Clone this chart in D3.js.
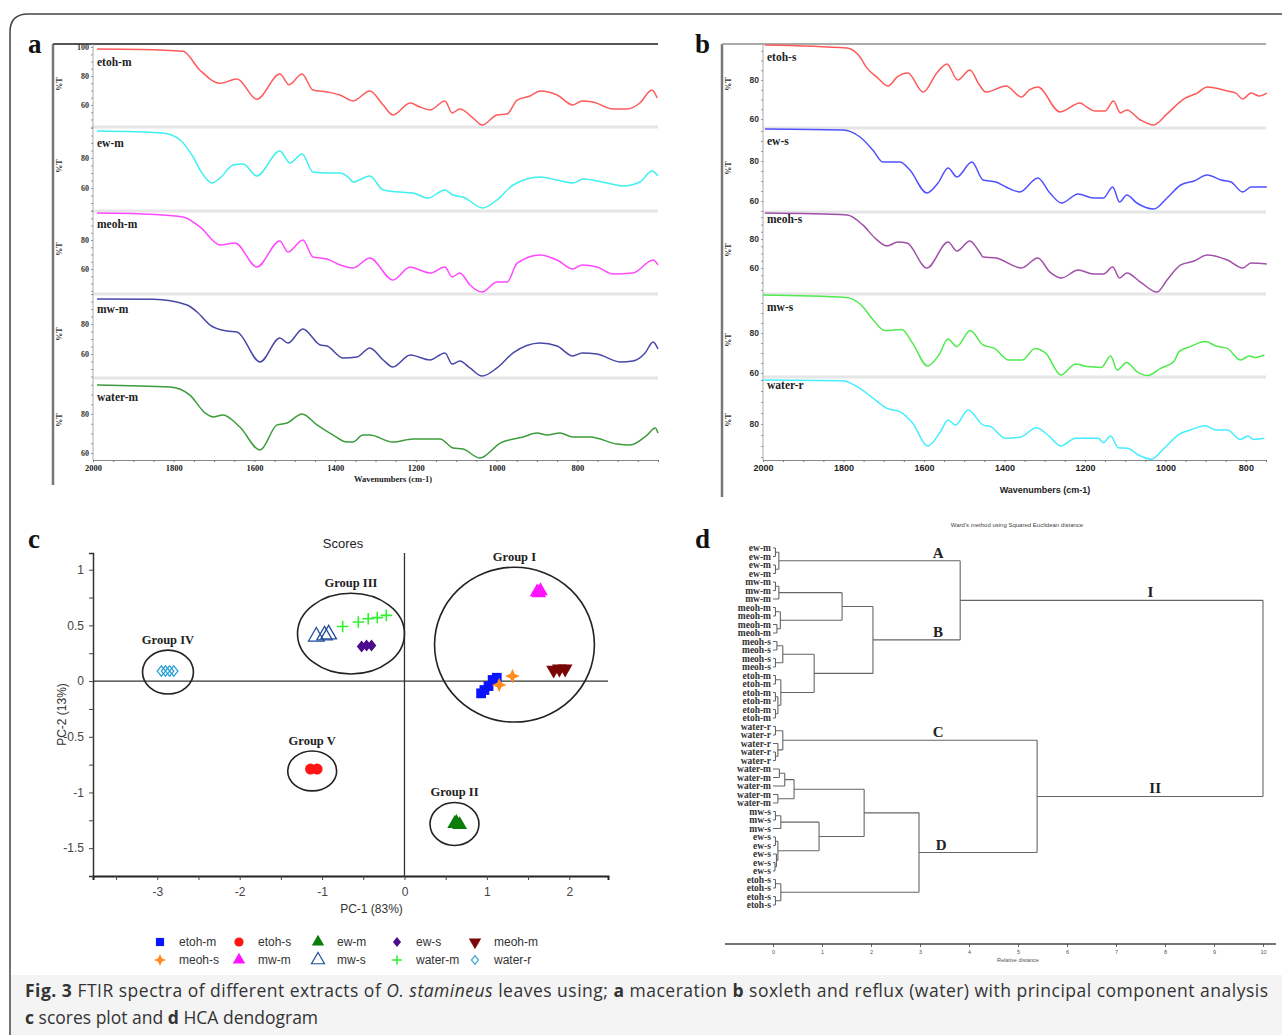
<!DOCTYPE html>
<html>
<head>
<meta charset="utf-8">
<script src="https://cdn.jsdelivr.net/npm/d3@7"></script>
<style>
  body { margin: 0; background: #fff; }
  svg { display: block; }
</style>
</head>
<body>
<svg id="fig"></svg>
<script>
// ---------- data: FTIR spectra, [wavenumber, %T] ----------
let etohM = [[1990,98.6],[1880,98.3],[1777,97],[1735,84],[1685,75],[1643,78],[1594,64],[1537,81.4],[1514,74],[1482,81.4],[1455,70.3],[1420,69],[1388,66.9],[1356,62.8],[1314,69.7],[1281,60],[1257,53.1],[1214,61.4],[1190,58.6],[1165,56.6],[1128,62.8],[1110,54.5],[1091,57.2],[1058,51],[1036,46.2],[999,53.1],[974,53.8],[949,63.4],[917,66.2],[892,69.7],[850,66.9],[811,60],[788,62.8],[761,62.1],[711,57.2],[677,57.2],[645,61.4],[615,70.3],[602,64.8]];
let ewM = [[1990,98],[1827,96.7],[1784,92],[1752,80.7],[1730,70],[1705,63.3],[1685,66.7],[1653,75.3],[1628,76],[1594,68],[1537,84.7],[1512,76.7],[1482,82.7],[1455,70.7],[1420,70],[1388,70],[1363,66],[1356,64],[1314,68],[1281,58.7],[1239,57.3],[1207,56.7],[1170,53.3],[1128,58.7],[1108,55.3],[1083,54],[1034,46.7],[999,52],[959,62],[892,67.3],[850,65.3],[811,63.3],[786,66],[726,63.3],[687,61.3],[645,64],[615,71.3],[600,68]];
let meohM = [[1990,98.6],[1880,98],[1777,95.9],[1735,89],[1685,76.6],[1648,78],[1594,61.4],[1537,79.3],[1517,71.7],[1480,80],[1455,68.3],[1420,66.9],[1388,62.8],[1356,60.7],[1314,67.6],[1257,52.4],[1214,61.4],[1190,59.3],[1165,57.2],[1128,61.4],[1110,54.5],[1091,57.2],[1066,49],[1036,44.1],[999,51],[974,51],[949,64],[892,69.7],[850,66.2],[811,60],[788,62.8],[751,61.4],[711,56.6],[662,57.2],[612,66.2],[600,62.8]];
let mwM = [[1990,96.7],[1850,96.5],[1767,92.7],[1742,88],[1710,79.3],[1668,75.3],[1643,74.7],[1586,54.7],[1537,70.7],[1517,67.3],[1480,76.7],[1437,66],[1420,65.3],[1380,57.3],[1346,58],[1314,64],[1281,56],[1257,51.3],[1214,59.3],[1165,56],[1128,60.7],[1110,53.3],[1091,55.3],[1066,50.7],[1036,45.3],[999,50.7],[959,60.7],[892,67.3],[850,65.3],[811,58.7],[788,60.7],[751,60],[694,54.7],[662,55.3],[632,60.7],[612,68],[600,63.3]];
let waterM = [[1990,94.9],[1809,93.8],[1760,89.7],[1722,80.5],[1703,78.5],[1678,79.5],[1636,73.3],[1586,61.5],[1544,74.4],[1519,75.4],[1482,80],[1445,74.4],[1405,69.2],[1371,65.6],[1356,65.6],[1331,69.2],[1314,69.2],[1257,65.6],[1207,67.2],[1140,67.2],[1108,62.6],[1083,62],[1041,57.4],[991,65.1],[934,68.2],[900,70.3],[875,69.2],[843,70.3],[811,68.2],[768,68.2],[702,64.6],[669,64.1],[627,69.2],[607,72.8],[600,70.3]];

let etohS = [[1995,98],[1791,96.4],[1759,91.8],[1742,86.2],[1717,81.5],[1689,76.9],[1667,81.5],[1640,83.6],[1602,73.8],[1568,83.6],[1543,88.2],[1516,80],[1486,85.1],[1462,77.4],[1446,73.8],[1396,76.9],[1358,71.3],[1338,74.9],[1317,76.4],[1262,63.6],[1212,68.2],[1196,66.2],[1175,64.1],[1150,64.1],[1129,69.2],[1112,63.1],[1096,64.6],[1062,59.5],[1029,56.9],[996,62.6],[954,70.3],[921,73.3],[896,76.4],[846,74.4],[825,73.3],[808,70.3],[787,73.3],[767,71.8],[748,73.3]];
let ewS = [[1995,96],[1801,95.5],[1759,92],[1727,85.5],[1702,79.5],[1660,79.5],[1635,75.5],[1593,64],[1565,69],[1540,76.5],[1518,72],[1481,79.5],[1453,70.5],[1421,69.5],[1396,67],[1362,64.5],[1317,71.5],[1287,64],[1258,59],[1217,63.5],[1179,61.5],[1154,61.5],[1131,67],[1114,59.5],[1096,63],[1071,59],[1029,56],[996,61.5],[962,68],[929,70],[896,73],[862,70.5],[837,69.5],[808,64.5],[787,67],[748,67]];
let meohS = [[1995,97.9],[1791,96.6],[1752,89.7],[1722,80.7],[1692,75.2],[1665,77.9],[1642,77.2],[1593,60],[1540,77.9],[1518,71.7],[1486,78.6],[1462,71],[1453,67.6],[1421,66.9],[1358,60],[1317,66.9],[1287,57.2],[1258,53.1],[1217,58.6],[1179,55.9],[1154,55.9],[1131,60.7],[1114,53.1],[1096,56.6],[1062,50.3],[1021,43.4],[996,51.7],[962,62.1],[929,64.8],[896,69],[846,65.5],[808,60],[787,63.4],[748,62.8]];
let mwS = [[2000,99],[1793,97.8],[1756,94],[1729,87.3],[1697,81.2],[1655,81.8],[1628,74.8],[1591,63.5],[1563,69],[1540,77],[1519,73.2],[1485,81.2],[1453,74],[1425,72.3],[1389,66.5],[1356,66.5],[1324,72.3],[1297,69.8],[1260,59],[1223,64.5],[1195,63.2],[1159,62.8],[1136,68.5],[1120,61.5],[1096,65.3],[1071,60.7],[1044,58.7],[1012,62.3],[979,65.7],[966,70.7],[938,73.2],[901,75.7],[874,73.5],[846,72.3],[814,66.5],[791,68.5],[777,67.8],[754,69]];
let waterR = [[2000,100],[1802,99.7],[1766,97],[1729,92.1],[1692,87.1],[1660,85.6],[1628,80.3],[1591,70],[1559,76.5],[1540,81.8],[1522,79.5],[1490,86.4],[1453,79.5],[1434,78.8],[1398,73.5],[1361,74],[1320,78.3],[1292,75],[1260,70],[1223,73.5],[1167,73.5],[1154,71.5],[1136,74.5],[1117,69.2],[1094,69],[1067,65.9],[1035,64],[1003,69],[966,75.3],[938,77.3],[901,79.2],[874,77.3],[846,77.3],[814,73],[795,74.5],[781,73],[754,73.5]];

let spectraTicks = [2000, 1800, 1600, 1400, 1200, 1000, 800];

// ---------- data: PCA scores [PC-1, PC-2] ----------
let scoresEtohM = [[1.07,0.01],[1.02,-0.045],[0.97,-0.08],[0.93,-0.11],[1.12,0.03]];
let scoresEtohS = [[-1.14,-0.79],[-1.06,-0.79]];
let scoresEwM = [[0.61,-1.28],[0.67,-1.29],[0.63,-1.27]];
let scoresEwS = [[-0.52,0.31],[-0.46,0.32],[-0.40,0.32]];
let scoresMeohM = [[1.81,0.10],[1.88,0.11],[1.95,0.11]];
let scoresMeohS = [[1.31,0.045],[1.15,-0.035]];
let scoresMwM = [[1.61,0.80],[1.65,0.81],[1.63,0.79]];
let scoresMwS = [[-1.07,0.40],[-0.97,0.41],[-0.92,0.42]];
let scoresWaterM = [[-0.75,0.49],[-0.56,0.53],[-0.44,0.56],[-0.33,0.57],[-0.22,0.59]];
let scoresWaterR = [[-2.95,0.09],[-2.90,0.09],[-2.85,0.09],[-2.80,0.09]];

// groups: name, centre [PC-1, PC-2], radii [PC-1, PC-2]
let groupNames = ['Group I', 'Group II', 'Group III', 'Group IV', 'Group V'];
let groupCentres = [[1.335,0.327],[0.607,-1.283],[-0.649,0.426],[-2.87,0.081],[-1.12,-0.807]];
let groupRadii = [[0.97,0.695],[0.297,0.193],[0.649,0.363],[0.309,0.197],[0.297,0.179]];

// ---------- data: HCA dendrogram ----------
let hcaLabels = ['ew-m','ew-m','ew-m','ew-m','mw-m','mw-m','mw-m','meoh-m','meoh-m','meoh-m','meoh-m',
  'meoh-s','meoh-s','meoh-s','meoh-s','etoh-m','etoh-m','etoh-m','etoh-m','etoh-m','etoh-m',
  'water-r','water-r','water-r','water-r','water-r','water-m','water-m','water-m','water-m','water-m',
  'mw-s','mw-s','mw-s','ew-s','ew-s','ew-s','ew-s','ew-s','etoh-s','etoh-s','etoh-s','etoh-s'];
// [height, child, child...], leaves are indices into hcaLabels
let hcaTree = [10,
  [3.82,
    [0.12, [0.05,0,1], [0.05,2,3]],
    [2.04,
      [1.41, [0.12,[0.05,4,5],6], [0.15,[0.05,7,8],[0.08,9,10]]],
      [0.84, [0.2,[0.08,11,12],[0.05,13,14]], [0.16,[0.05,15,16],[0.1,[0.05,17,18],[0.05,19,20]]]]]],
  [5.39,
    [0.2, [0.05,21,22], [0.1,23,[0.05,24,25]]],
    [2.98,
      [1.86, [0.43,[0.24,[0.13,26,27],28],[0.1,29,30]], [0.94,[0.16,[0.05,31,32],33],[0.1,[0.05,34,35],[0.07,36,[0.04,37,38]]]]],
      [0.16, [0.05,39,40], [0.05,41,42]]]]];
let hcaTicks = d3.range(0, 11);

// ---------- setup ----------
const W = 1282, H = 1035;
const serif = '"Liberation Serif","Times New Roman",serif';
const sans = '"Liberation Sans",Arial,sans-serif';
const narrow = '"Liberation Sans Narrow","Arial Narrow","Liberation Sans",sans-serif';

let svg = d3.select('#fig').attr('width', W).attr('height', H);

// outer frame + caption band
svg.append('rect').attr('x', 11).attr('y', 975).attr('width', W - 11).attr('height', H - 975).attr('fill', '#f4f4f4');
svg.append('path').attr('d', 'M10,1035 L10,32 Q10,14 28,14 L1282,14')
    .attr('fill', 'none').attr('stroke', '#444').attr('stroke-width', 1.5);

// panel letters
[['a',28,53],['b',695,53],['c',28,548],['d',695,548]].forEach(p => {
    svg.append('text').attr('x', p[1]).attr('y', p[2]).text(p[0])
        .attr('font-family', serif).attr('font-weight', 'bold').attr('font-size', 27).attr('fill', '#111');
});

// ---------- spectra panels (a, b) ----------
function drawSpectra(cfg) {
    let g = svg.append('g');
    let x = d3.scaleLinear().domain(cfg.xDomain).range(cfg.xRange);

    // frame
    g.append('line').attr('x1', cfg.frameX).attr('x2', cfg.frameX).attr('y1', 44).attr('y2', cfg.frameBottom)
        .attr('stroke', '#777').attr('stroke-width', 2.5);
    g.append('line').attr('x1', cfg.frameX).attr('x2', cfg.xRange[1]).attr('y1', 44).attr('y2', 44)
        .attr('stroke', cfg.topColor).attr('stroke-width', 2);

    // separators between stacked spectra
    cfg.tops.slice(1).forEach(t => {
        g.append('rect').attr('x', cfg.xRange[0]).attr('y', t - 1.5).attr('width', cfg.xRange[1] - cfg.xRange[0])
            .attr('height', 3).attr('fill', '#e6e6e6');
    });

    // inner y axis line
    g.append('line').attr('x1', cfg.xRange[0]).attr('x2', cfg.xRange[0]).attr('y1', 44).attr('y2', cfg.bottom)
        .attr('stroke', '#aaa').attr('stroke-width', 1);

    cfg.data.forEach((series, i) => {
        let y = d3.scaleLinear().domain([60, 80]).range(cfg.yPix[i]);
        let top = cfg.tops[i], bot = i < 4 ? cfg.tops[i + 1] : cfg.bottom;
        let lo = Math.ceil(y.invert(bot) / 5) * 5, hi = Math.floor(y.invert(top) / 5) * 5;
        let ax = g.append('g').attr('transform', `translate(${cfg.xRange[0]},0)`)
            .call(d3.axisLeft(y).tickValues(d3.range(lo, hi + 1, 5))
                .tickSize(2).tickPadding(2)
                .tickFormat(d => cfg.yLabels[i].includes(d) ? d : ''));
        ax.select('.domain').remove();
        ax.selectAll('line').attr('stroke', '#999');
        ax.selectAll('text').attr('font-family', cfg.tickFont).attr('font-weight', 'bold')
            .attr('font-size', cfg.tickSize).attr('fill', '#333');

        // %T label
        g.append('text').attr('transform', `translate(${cfg.pctX},${cfg.pctY[i]}) rotate(-90)`)
            .attr('text-anchor', 'middle').text('%T')
            .attr('font-family', serif).attr('font-weight', 'bold').attr('font-size', 8).attr('fill', '#333');

        // spectrum
        let line = d3.line().x(d => x(d[0])).y(d => y(d[1])).curve(d3.curveMonotoneX);
        g.append('path').datum(series).attr('d', line)
            .attr('fill', 'none').attr('stroke', cfg.colors[i]).attr('stroke-width', 1.5);

        // name
        g.append('text').attr('x', cfg.nameX).attr('y', cfg.nameY[i]).text(cfg.names[i])
            .attr('font-family', serif).attr('font-weight', 'bold').attr('font-size', 11.5).attr('fill', '#222');
    });

    // bottom axis
    let xAxis = g.append('g').attr('transform', `translate(0,${cfg.bottom})`)
        .call(d3.axisBottom(x).tickValues(d3.range(cfg.xDomain[0], cfg.xDomain[1] - 1, -50))
            .tickSize(2).tickPadding(3)
            .tickFormat(d => spectraTicks.includes(d) ? d : ''));
    xAxis.select('.domain').attr('stroke', '#888');
    xAxis.selectAll('line').attr('stroke', '#777');
    xAxis.selectAll('text').attr('font-family', cfg.tickFont).attr('font-weight', 'bold')
        .attr('font-size', cfg.tickSize + 0.5).attr('fill', '#222');

    g.append('text').attr('x', cfg.titleX).attr('y', cfg.titleY).attr('text-anchor', 'middle')
        .text('Wavenumbers (cm-1)').attr('font-family', cfg.tickFont).attr('font-weight', 'bold')
        .attr('font-size', cfg.tickSize + 0.5).attr('fill', '#222');
}

drawSpectra({
    names: ['etoh-m', 'ew-m', 'meoh-m', 'mw-m', 'water-m'],
    data: [etohM, ewM, meohM, mwM, waterM],
    colors: ['#ff5b5b', '#3ef0f0', '#ff48ff', '#4848a8', '#3c9c3c'],
    xDomain: [2000, 600], xRange: [93, 658],
    frameX: 53, frameBottom: 485, topColor: '#555',
    tops: [44, 127, 211, 294, 378], bottom: 460,
    yPix: [[105, 76], [188, 158], [269, 240], [354, 324], [453, 414]],
    yLabels: [[100, 80, 60], [80, 60], [80, 60], [80, 60], [80, 60]],
    nameX: 97, nameY: [66, 147, 228, 313, 401],
    pctX: 62, pctY: [84, 166, 249, 334, 420],
    tickFont: serif, tickSize: 8,
    titleX: 393, titleY: 482
});

drawSpectra({
    names: ['etoh-s', 'ew-s', 'meoh-s', 'mw-s', 'water-r'],
    data: [etohS, ewS, meohS, mwS, waterR],
    colors: ['#ff5a5a', '#5050ff', '#a050a8', '#4eea4e', '#44eeff'],
    xDomain: [2000, 750], xRange: [763, 1266],
    frameX: 722, frameBottom: 497, topColor: '#aaa',
    tops: [44, 128, 212, 294, 377], bottom: 460,
    yPix: [[119, 80], [201, 161], [268, 239], [373, 333], [468, 424]],
    yLabels: [[80, 60], [80, 60], [80, 60], [80, 60], [80]],
    nameX: 767, nameY: [61, 145, 223, 311, 389],
    pctX: 731, pctY: [84, 168, 250, 340, 420],
    tickFont: narrow, tickSize: 8.5,
    titleX: 1045, titleY: 493
});

// ---------- panel c: PCA scores ----------
let cx = d3.scaleLinear().domain([-3.78, 2.47]).range([93, 608]);
let cy = d3.scaleLinear().domain([-1.75, 1.15]).range([876, 553]);
let gc = svg.append('g');

// custom symbols
let star4 = { draw(ctx, size) {
    let r = Math.sqrt(size) * 0.75, w = r * 0.3;
    ctx.moveTo(0, -r); ctx.lineTo(w, -w); ctx.lineTo(r, 0); ctx.lineTo(w, w);
    ctx.lineTo(0, r); ctx.lineTo(-w, w); ctx.lineTo(-r, 0); ctx.lineTo(-w, -w); ctx.closePath();
} };
let plus = { draw(ctx, size) {
    let r = Math.sqrt(size) * 0.55;
    ctx.moveTo(-r, 0); ctx.lineTo(r, 0); ctx.moveTo(0, -r); ctx.lineTo(0, r);
} };
let diamond = { draw(ctx, size) {
    let r = Math.sqrt(size) * 0.62;
    ctx.moveTo(0, -r); ctx.lineTo(r * 0.8, 0); ctx.lineTo(0, r); ctx.lineTo(-r * 0.8, 0); ctx.closePath();
} };

let scoreSeries = [
    { name: 'etoh-m', pts: scoresEtohM, type: d3.symbolSquare, fill: '#0a14ff', stroke: 'none', rot: 0, size: 95 },
    { name: 'etoh-s', pts: scoresEtohS, type: d3.symbolCircle, fill: '#ff1414', stroke: 'none', rot: 0, size: 95 },
    { name: 'ew-m', pts: scoresEwM, type: d3.symbolTriangle, fill: '#0a7d0a', stroke: 'none', rot: 0, size: 95 },
    { name: 'ew-s', pts: scoresEwS, type: diamond, fill: '#4b0c8c', stroke: 'none', rot: 0, size: 95 },
    { name: 'meoh-m', pts: scoresMeohM, type: d3.symbolTriangle, fill: '#7a0505', stroke: 'none', rot: 180, size: 95 },
    { name: 'meoh-s', pts: scoresMeohS, type: star4, fill: '#ff8c1a', stroke: 'none', rot: 0, size: 95 },
    { name: 'mw-m', pts: scoresMwM, type: d3.symbolTriangle, fill: '#ff14ff', stroke: 'none', rot: 0, size: 95 },
    { name: 'mw-s', pts: scoresMwS, type: d3.symbolTriangle, fill: 'none', stroke: '#1f4e99', rot: 0, size: 105 },
    { name: 'water-m', pts: scoresWaterM, type: plus, fill: 'none', stroke: '#2ef02e', rot: 0, size: 110 },
    { name: 'water-r', pts: scoresWaterR, type: diamond, fill: 'none', stroke: '#2aa0d8', rot: 0, size: 70 }
];

// axes
let xAx = gc.append('g').attr('transform', `translate(0,${cy(-1.75)})`)
    .call(d3.axisBottom(cx).tickValues(d3.range(-3.5, 2.01, 0.5)).tickSize(4).tickPadding(7)
        .tickFormat(d => Number.isInteger(d) ? String(d) : ''));
xAx.select('.domain').attr('stroke', '#222').attr('stroke-width', 2);
let yAx = gc.append('g').attr('transform', `translate(${cx(-3.78)},0)`)
    .call(d3.axisLeft(cy).tickValues(d3.range(-1.5, 1.01, 0.25)).tickSize(4).tickPadding(5)
        .tickFormat(d => d % 0.5 === 0 ? String(d) : ''));
yAx.select('.domain').attr('stroke', '#333').attr('stroke-width', 1.5);
[xAx, yAx].forEach(a => {
    a.selectAll('line').attr('stroke', '#444');
    a.selectAll('text').attr('font-family', sans).attr('font-size', 12).attr('fill', '#444');
});

// zero lines
gc.append('line').attr('x1', cx(-3.78)).attr('x2', cx(2.47)).attr('y1', cy(0)).attr('y2', cy(0))
    .attr('stroke', '#333').attr('stroke-width', 1.3);
gc.append('line').attr('x1', cx(0)).attr('x2', cx(0)).attr('y1', cy(1.15)).attr('y2', cy(-1.75))
    .attr('stroke', '#333').attr('stroke-width', 1.3);

// titles
gc.append('text').attr('x', 343).attr('y', 548).attr('text-anchor', 'middle').text('Scores')
    .attr('font-family', sans).attr('font-size', 13).attr('fill', '#222');
gc.append('text').attr('x', cx(-0.4)).attr('y', 913).attr('text-anchor', 'middle').text('PC-1 (83%)')
    .attr('font-family', sans).attr('font-size', 12).attr('fill', '#333');
gc.append('text').attr('transform', `translate(66,${cy(-0.3)}) rotate(-90)`).attr('text-anchor', 'middle')
    .text('PC-2 (13%)').attr('font-family', sans).attr('font-size', 12).attr('fill', '#333');

// points
scoreSeries.forEach(s => {
    let sym = d3.symbol().type(s.type).size(s.size);
    gc.append('g').selectAll('path').data(s.pts).join('path')
        .attr('transform', d => `translate(${cx(d[0])},${cy(d[1])}) rotate(${s.rot})`)
        .attr('d', sym).attr('fill', s.fill).attr('stroke', s.stroke)
        .attr('stroke-width', s.type === plus ? 1.6 : 1.3);
});

// group ellipses
groupNames.forEach((n, i) => {
    let c = groupCentres[i], r = groupRadii[i];
    let rx = cx(c[0] + r[0]) - cx(c[0]), ry = cy(c[1]) - cy(c[1] + r[1]);
    gc.append('ellipse').attr('cx', cx(c[0])).attr('cy', cy(c[1])).attr('rx', rx).attr('ry', ry)
        .attr('fill', 'none').attr('stroke', '#222').attr('stroke-width', 1.6);
    gc.append('text').attr('x', cx(c[0])).attr('y', cy(c[1]) - ry - 6).attr('text-anchor', 'middle').text(n)
        .attr('font-family', serif).attr('font-weight', 'bold').attr('font-size', 12.5).attr('fill', '#222');
});

// legend
let legCols = [160, 239, 318, 397, 475];
scoreSeries.forEach((s, i) => {
    let lx = legCols[i % 5], ly = i < 5 ? 942 : 960;
    gc.append('path').attr('transform', `translate(${lx},${ly}) rotate(${s.rot})`)
        .attr('d', d3.symbol().type(s.type).size(s.size * 0.7))
        .attr('fill', s.fill).attr('stroke', s.stroke).attr('stroke-width', s.type === plus ? 1.5 : 1.2);
    gc.append('text').attr('x', lx + 19).attr('y', ly + 4).text(s.name)
        .attr('font-family', sans).attr('font-size', 12).attr('fill', '#333');
});

// ---------- panel d: dendrogram ----------
let gd = svg.append('g');
let dx = d3.scaleLinear().domain([0, 10]).range([773, 1263]);
let dy = d3.scalePoint().domain(d3.range(hcaLabels.length)).range([548, 905]);

let root = d3.hierarchy(hcaTree, d => Array.isArray(d) ? d.slice(1) : null);
root.eachAfter(n => {
    if (n.children) {
        n.h = n.data[0];
        n.py = (n.children[0].py + n.children[n.children.length - 1].py) / 2;
    } else {
        n.h = 0;
        n.py = dy(n.data);
    }
});

let links = [];
root.each(n => {
    if (!n.children) return;
    let first = n.children[0], last = n.children[n.children.length - 1];
    links.push(`M${dx(n.h)},${first.py}V${last.py}`);
    n.children.forEach(c => links.push(`M${dx(c.h)},${c.py}H${dx(n.h)}`));
});
gd.append('path').attr('d', links.join('')).attr('fill', 'none').attr('stroke', '#666').attr('stroke-width', 1.1);

gd.selectAll('text.leaf').data(root.leaves()).join('text').attr('class', 'leaf')
    .attr('x', 771).attr('y', d => d.py + 3.2).attr('text-anchor', 'end').text(d => hcaLabels[d.data])
    .attr('font-family', serif).attr('font-weight', 'bold').attr('font-size', 9.5).attr('fill', '#333');

// cluster letters
let nI = root.children[0], nII = root.children[1];
[['A', nI.children[0], 3.37], ['B', nI.children[1], 3.37], ['C', nII.children[0], 3.37],
 ['D', nII.children[1], 3.43], ['I', nI, 7.7], ['II', nII, 7.8]].forEach(m => {
    gd.append('text').attr('x', dx(m[2])).attr('y', m[1].py - 3).attr('text-anchor', 'middle').text(m[0])
        .attr('font-family', serif).attr('font-weight', 'bold').attr('font-size', 15).attr('fill', '#222');
});

// distance axis
let dAx = gd.append('g').attr('transform', 'translate(0,944)')
    .call(d3.axisBottom(dx).tickValues(hcaTicks).tickSize(3).tickPadding(3));
dAx.select('.domain').remove();
gd.append('line').attr('x1', 725).attr('x2', 1276).attr('y1', 944).attr('y2', 944)
    .attr('stroke', '#444').attr('stroke-width', 1.5);
dAx.selectAll('line').attr('stroke', '#666');
dAx.selectAll('text').attr('font-family', sans).attr('font-size', 5.5).attr('fill', '#555');
gd.append('text').attr('x', dx(5)).attr('y', 962).attr('text-anchor', 'middle').text('Relative distance')
    .attr('font-family', sans).attr('font-size', 5.5).attr('fill', '#555');
gd.append('text').attr('x', 1017).attr('y', 527).attr('text-anchor', 'middle')
    .text("Ward's method using Squared Euclidean distance")
    .attr('font-family', sans).attr('font-size', 6).attr('fill', '#444');

// ---------- caption ----------
let cap1 = [['Fig. 3', 'bold', 'normal'], [' FTIR spectra of different extracts of ', 'normal', 'normal'],
    ['O. stamineus', 'normal', 'italic'], [' leaves using; ', 'normal', 'normal'], ['a', 'bold', 'normal'],
    [' maceration ', 'normal', 'normal'], ['b', 'bold', 'normal'],
    [' soxleth and reflux (water) with principal component analysis', 'normal', 'normal']];
let cap2 = [['c', 'bold', 'normal'], [' scores plot and ', 'normal', 'normal'], ['d', 'bold', 'normal'],
    [' HCA dendogram', 'normal', 'normal']];
[[cap1, 997, true], [cap2, 1024, false]].forEach(c => {
    let t = svg.append('text').attr('x', 25).attr('y', c[1])
        .attr('font-family', '"Open Sans","Noto Sans",sans-serif').attr('font-size', 17.5).attr('fill', '#333')
        .attr('xml:space', 'preserve');
    if (c[2]) t.attr('textLength', 1243).attr('lengthAdjust', 'spacing');
    c[0].forEach(p => t.append('tspan').text(p[0]).attr('font-weight', p[1]).attr('font-style', p[2]));
});
</script>
</body>
</html>
